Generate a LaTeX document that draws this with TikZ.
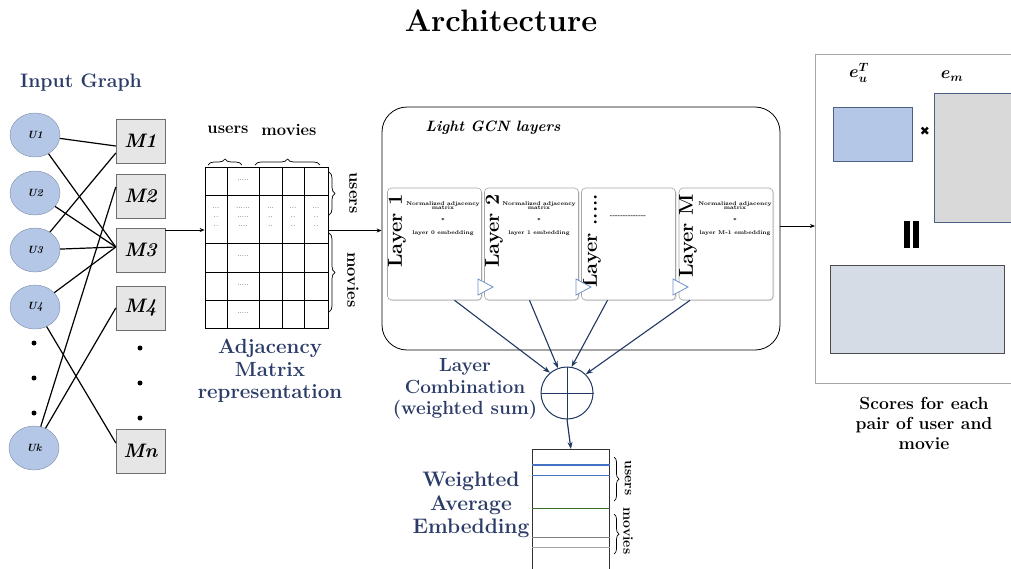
\documentclass[tikz,border=0pt]{standalone}
\usepackage{fontspec}
\newfontfamily\symfont{DejaVu Sans}
\usetikzlibrary{arrows.meta,decorations.pathreplacing,calc,shapes.geometric,shadows}
\definecolor{navytext}{HTML}{2C3C68}
\definecolor{navyline}{HTML}{1F3864}
\definecolor{ufill}{HTML}{B4C7E7}
\definecolor{uedge}{HTML}{7A8CA8}
\definecolor{mfill}{HTML}{E7E6E6}
\definecolor{medge}{HTML}{6E6E6E}
\definecolor{triblue}{HTML}{6F93CC}
\definecolor{emgray}{HTML}{D9D9D9}
\definecolor{scorefill}{HTML}{D6DCE5}
\definecolor{lineblue}{HTML}{4472C4}
\definecolor{linegreen}{HTML}{3B6E2A}
\newcommand{\fs}[1]{\fontsize{#1}{#1}\selectfont}
\tikzset{
  unode/.style={ellipse, draw=uedge, fill=ufill, minimum width=50pt, minimum height=44pt, inner sep=0pt, font=\fs{10.5}\bfseries\itshape},
  mnode/.style={rectangle, draw=medge, fill=mfill, minimum width=49pt, minimum height=44pt, inner sep=0pt, font=\fs{19.5}\bfseries\itshape},
  gedge/.style={draw=black, line width=1.2pt},
  dotnode/.style={circle, fill=black, inner sep=0pt, minimum size=5pt},
  bluelabel/.style={text=navytext, font=\fs{18}\bfseries, align=center},
  layerbox/.style={draw=black!35, rounded corners=4pt, fill=white, line width=0.6pt, drop shadow={shadow xshift=1pt, shadow yshift=-1pt, opacity=0.25}},
  layerlabel/.style={rotate=90, anchor=east, font=\fs{20}\bfseries, inner sep=0pt},
  tinytext/.style={font=\fs{5.5}\bfseries, align=center, inner sep=0pt},
  navyarrow/.style={draw=navyline, line width=1.1pt, -{Stealth[length=7pt,width=5pt]}},
  blackarrow/.style={draw=black, line width=0.9pt, -{Stealth[length=5pt,width=4pt]}},
  brace/.style={decorate, decoration={brace, amplitude=6pt}, line width=0.7pt},
  tri/.style={draw=triblue, fill=white, line width=0.8pt},
  cell/.style={font=\fs{7}, inner sep=0pt, align=center},
  axislabel/.style={font=\fs{16.5}\bfseries, inner sep=1pt},
}
\begin{document}
\begin{tikzpicture}[x=1pt,y=-1pt]
\useasboundingbox (0,0) rectangle (1011,568);
\fill[white] (0,0) rectangle (1011,568);

% title
\node[font=\fs{31}\bfseries] (title) at (501,21) {Architecture};

% input graph
\node[bluelabel, font=\fs{19.5}\bfseries] (ig) at (81,83) {Input Graph};
\node[unode] (u1) at (35,135) {U1};
\node[unode] (u2) at (35,193) {U2};
\node[unode] (u3) at (35,250) {U3};
\node[unode] (u4) at (35,307) {U4};
\node[unode] (uk) at (34,448) {Uk};
\node[mnode] (m1) at (140.5,141) {M1};
\node[mnode] (m2) at (140.5,196) {M2};
\node[mnode] (m3) at (140.5,250) {M3};
\node[mnode] (m4) at (140.5,308) {M4};
\node[mnode] (mn) at (140.5,451) {Mn};
\foreach \y [count=\i] in {343,378,413} {\node[dotnode] (ld\i) at (34,\y) {};}
\foreach \y [count=\i] in {348,383,418} {\node[dotnode] (rd\i) at (140,\y) {};}

\draw[gedge] (u1) -- ([yshift=-5pt]m1.west);
\draw[gedge] (u1) -- ([yshift=3pt]m3.west);
\draw[gedge] (u2) -- ([yshift=3pt]m3.west);
\draw[gedge] (u3) -- ([yshift=-12pt]m1.west);
\draw[gedge] (u3) -- ([yshift=3pt]m3.west);
\draw[gedge] (u4) -- ([yshift=3pt]m3.west);
\draw[gedge] (u4) -- ([yshift=8pt]mn.west);
\draw[gedge] (uk) -- ([yshift=9pt]m2.west);
\draw[gedge] (uk) -- (m4.west);

% adjacency matrix
\node[draw, line width=0.8pt, minimum width=123pt, minimum height=161pt, inner sep=0pt] (mat) at (266.5,247.5) {};
\foreach \x in {227,259,282,304} {\draw[line width=0.8pt] (\x,167) -- (\x,328);}
\foreach \y in {195,243,272,300} {\draw[line width=0.8pt] (205,\y) -- (328,\y);}
\node[cell] (c12) at (243,180) {.....};
\node[cell] (c32) at (243,256) {.....};
\node[cell] (c42) at (243,285) {.....};
\node[cell] (c52) at (243,313) {.....};
\node[cell] (c21) at (216,217) {...\\[2pt]..\\[2pt]..};
\node[cell] (c22) at (243,217) {......\\[2pt].....\\[2pt]....};
\node[cell] (c23) at (270.5,217) {...\\[2pt]..\\[2pt]..};
\node[cell] (c24) at (293,217) {...\\[2pt]..\\[2pt]..};
\node[cell] (c25) at (316,217) {...\\[2pt]..\\[2pt]..};
\draw[brace] (208,165) -- (242,165);
\draw[brace] (255,165) -- (320,165);
\node[axislabel] (tu) at (228,130) {users};
\node[axislabel] (tm) at (289,130) {movies};
\draw[brace] (329,172) -- (329,215);
\draw[brace] (329,233) -- (329,312);
\node[axislabel, rotate=-90] (ru) at (353,193) {users};
\node[axislabel, rotate=-90] (rm) at (353,280) {movies};
\node[bluelabel, font=\fs{20.5}\bfseries] (adjl) at (270,371) {Adjacency\\[2pt]Matrix\\[2pt]representation};

\draw[blackarrow] ([yshift=20pt]m3.east) -- ([yshift=17.5pt]mat.west);

% GCN block
\node[draw, line width=0.8pt, rounded corners=25pt, minimum width=398pt, minimum height=243pt, inner sep=0pt] (gcn) at (581,228.5) {};
\node[font=\fs{15}\bfseries\itshape] (gcnl) at (493,128) {Light GCN layers};
\draw[blackarrow] ([yshift=17pt]mat.east) -- (gcn.west |- 0,230.5);

\node[layerbox, minimum width=94pt, minimum height=112pt] (l1) at (434.5,244) {};
\node[layerbox, minimum width=94pt, minimum height=112pt] (l2) at (531.5,244) {};
\node[layerbox, minimum width=94pt, minimum height=112pt] (l3) at (628.5,244) {};
\node[layerbox, minimum width=94pt, minimum height=112pt] (l4) at (726,244) {};
\node[layerlabel] (l1t) at (397,194) {Layer 1};
\node[layerlabel] (l2t) at (494,194) {Layer 2};
\node[layerlabel] (l3t) at (592,194) {Layer .....};
\node[layerlabel] (l4t) at (688,194) {Layer M};
\node[tinytext] (n1) at (443,206) {Normalized adjacency\\[-1.5pt]matrix};
\node[tinytext] (s1) at (443,220) {*};
\node[tinytext] (e1) at (443,233) {layer 0 embedding};
\node[tinytext] (n2) at (539,206) {Normalized adjacency\\[-1.5pt]matrix};
\node[tinytext] (s2) at (539,220) {*};
\node[tinytext] (e2) at (539,233) {layer 1 embedding};
\node[tinytext] (d3) at (628,217) {-{}-{}-{}-{}-{}-{}-{}-{}-{}-{}-{}-{}-{}-};
\node[tinytext] (n4) at (735,206) {Normalized adjacency\\[-1.5pt]matrix};
\node[tinytext] (s4) at (735,220) {*};
\node[tinytext] (e4) at (735,233) {layer M-1 embedding};
\draw[tri] (478,279) -- (493,287) -- (478,295) -- cycle;
\draw[tri] (576,279) -- (591,287) -- (576,295) -- cycle;
\draw[tri] (673,279) -- (688,287) -- (673,295) -- cycle;

% layer combination
\node[circle, draw=navyline, line width=1pt, minimum size=52pt, inner sep=0pt] (comb) at (567,393) {};
\draw[navyline, line width=1pt] (comb.north) -- (comb.south);
\draw[navyline, line width=1pt] (comb.west) -- (comb.east);
\draw[navyarrow] ([xshift=20pt]l1.south) -- (comb.130);
\draw[navyarrow] ([xshift=-2pt]l2.south) -- (comb.110);
\draw[navyarrow] ([xshift=-21pt]l3.south) -- (comb.80);
\draw[navyarrow] ([xshift=-36pt]l4.south) -- (comb.45);
\node[bluelabel, font=\fs{19}\bfseries] (combl) at (465,389) {Layer\\[2.5pt]Combination\\[2.5pt](weighted sum)};

% weighted embedding
\node[draw=black!80, line width=0.8pt, minimum width=77pt, minimum height=120pt, inner sep=0pt, anchor=north west] (emb) at (532,449) {};
\draw[navyarrow, line width=1.2pt] (comb.south) -- (emb.north);
\draw[lineblue, line width=1.1pt] (emb.west |- 0,465) -- (emb.east |- 0,465);
\draw[lineblue, line width=0.9pt] (emb.west |- 0,475) -- (emb.east |- 0,475);
\draw[linegreen, line width=1pt] (emb.west |- 0,508) -- (emb.east |- 0,508);
\draw[black!50, line width=1pt] (emb.west |- 0,537) -- (emb.east |- 0,537);
\draw[black!35, line width=1pt] (emb.west |- 0,547) -- (emb.east |- 0,547);
\draw[brace, decoration={brace, amplitude=5pt}] (614,457) -- (614,501);
\draw[brace, decoration={brace, amplitude=5pt}] (614,514) -- (614,554);
\node[font=\fs{14}\bfseries, rotate=-90, inner sep=1pt] (eu) at (628,478) {users};
\node[font=\fs{14}\bfseries, rotate=-90, inner sep=1pt] (em) at (628,531) {movies};
\node[bluelabel, font=\fs{21}\bfseries] (embl) at (471,505) {Weighted\\[2.5pt]Average\\[2.5pt]Embedding};

% right panel
\node[draw=black!35, line width=0.9pt, minimum width=220pt, minimum height=329pt, inner sep=0pt, anchor=north west] (panel) at (815,54) {};
\draw[blackarrow] (gcn.east |- 0,226) -- (panel.west |- 0,226);
\node[font=\fs{18}\boldmath, inner sep=0pt] (eut) at (859,73) {$e_u^{T}$};
\node[font=\fs{18}\boldmath, inner sep=0pt] (emt) at (952,76) {$e_m$};
\node[draw=navyline!80, fill=ufill, line width=0.8pt, minimum width=79pt, minimum height=54pt, inner sep=0pt, anchor=north west] (eub) at (833,107) {};
\node[draw=navyline!80, fill=emgray, line width=0.8pt, minimum width=90pt, minimum height=129pt, inner sep=0pt, anchor=north west] (emb2) at (934,93) {};
\node[font=\fs{12}\symfont] (times) at (925,131) {✖};
\fill[black] (904,221) rectangle (910,248);
\fill[black] (913,221) rectangle (919,248);
\node[draw=black!70, fill=scorefill, line width=0.8pt, minimum width=174pt, minimum height=88pt, inner sep=0pt, anchor=north west] (score) at (830,265) {};
\node[font=\fs{17.5}\bfseries, align=center] (scl) at (924,423) {Scores for each\\[2.5pt]pair of user and\\[2.5pt]movie};
\end{tikzpicture}
\end{document}
